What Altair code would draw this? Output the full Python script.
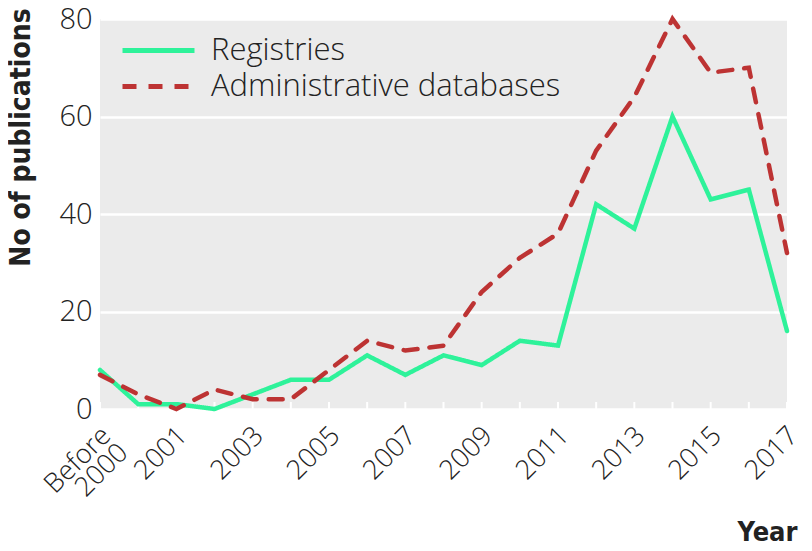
import altair as alt
import pandas as pd

years = ["Before 2000", "2000", "2001", "2002", "2003", "2004", "2005", "2006",
         "2007", "2008", "2009", "2010", "2011", "2012", "2013", "2014", "2015",
         "2016", "2017"]
registries = [8, 1, 1, 0, 3, 6, 6, 11, 7, 11, 9, 14, 13, 42, 37, 60, 43, 45, 16]
admin = [7, 3, 0, 4, 2, 2, 8, 14, 12, 13, 24, 31, 36, 53, 64, 80, 69, 70, 32]
series = ["Registries", "Administrative databases"]
colors = ["#2EF29A", "#BD3333"]

rows = []
for y, r, a in zip(years, registries, admin):
    rows.append({"year": y, "series": series[0], "value": r})
    rows.append({"year": y, "series": series[1], "value": a})
df = pd.DataFrame(rows)
ticks_df = pd.DataFrame({"year": years})

W, H = 687, 390
FONT = "Open Sans"
TXT = "#222222"

xenc = alt.X("year:N", sort=years,
             scale=alt.Scale(type="point", padding=0),
             axis=alt.Axis(
                 title="Year", titleFont="DejaVu Sans Condensed", titleFontSize=27,
                 titleFontWeight="bold", titleColor=TXT,
                 titleAnchor="end", titleAlign="right", titleX=697, titleY=131,
                 titleBaseline="alphabetic",
                 labelExpr="datum.value == 'Before 2000' ? ['Before', '2000'] : (toNumber(datum.value) % 2 == 1 ? datum.value : '')",
                 labelAngle=-45, labelAlign="right", labelBaseline="top",
                 labelFont=FONT, labelFontSize=27, labelFontWeight=300, labelColor=TXT,
                 labelOverlap=False, labelBound=False, labelFlush=False,
                 labelPadding=13, labelOffset=-3, labelLineHeight=24,
                 ticks=False, domain=False, grid=False))

lines = alt.Chart(df).mark_line(strokeWidth=4.5, strokeCap="round").encode(
    x=xenc,
    y=alt.Y("value:Q", scale=alt.Scale(domain=[0, 80], nice=False),
            axis=alt.Axis(values=[0, 20, 40, 60, 80], title="No of publications",
                          titleFont="DejaVu Sans Condensed", titleFontSize=28,
                          titleFontWeight="bold", titleColor=TXT,
                          titleX=-79, titleY=118, titleAlign="center",
                          titleBaseline="middle",
                          labelFont=FONT, labelFontSize=29, labelFontWeight=300,
                          labelColor=TXT, labelPadding=8, ticks=False, domain=False,
                          grid=True, gridColor="white", gridWidth=2.5)),
    color=alt.Color("series:N", scale=alt.Scale(domain=series, range=colors),
                    legend=alt.Legend(title=None, orient="none", legendX=20, legendY=11,
                                      symbolType="M-1,0H3", symbolSize=1296,
                                      symbolStrokeWidth=5, labelFont=FONT,
                                      labelFontSize=31, labelFontWeight=300,
                                      labelColor=TXT, labelLimit=0,
                                      labelOffset=50, rowPadding=0)),
    strokeDash=alt.StrokeDash("series:N", scale=alt.Scale(domain=series, range=[[1, 0], [14, 12]]),
                              legend=None),
    order=alt.Order("series:N", sort="descending"),
)

tickrule = alt.Chart(ticks_df).mark_rule(color="white", strokeWidth=2).encode(
    x=alt.X("year:N", sort=years),
    y=alt.value(H - 7),
    y2=alt.value(H),
)

chart = alt.layer(tickrule, lines).properties(
    width=W, height=H,
    autosize=alt.AutoSizeParams(type="none"),
    padding={"left": 92, "top": 11, "right": 17, "bottom": 139},
).configure_view(fill="#EBEBEB", stroke=None)

chart.save("out.html", embed_options={"renderer": "svg", "actions": False})
